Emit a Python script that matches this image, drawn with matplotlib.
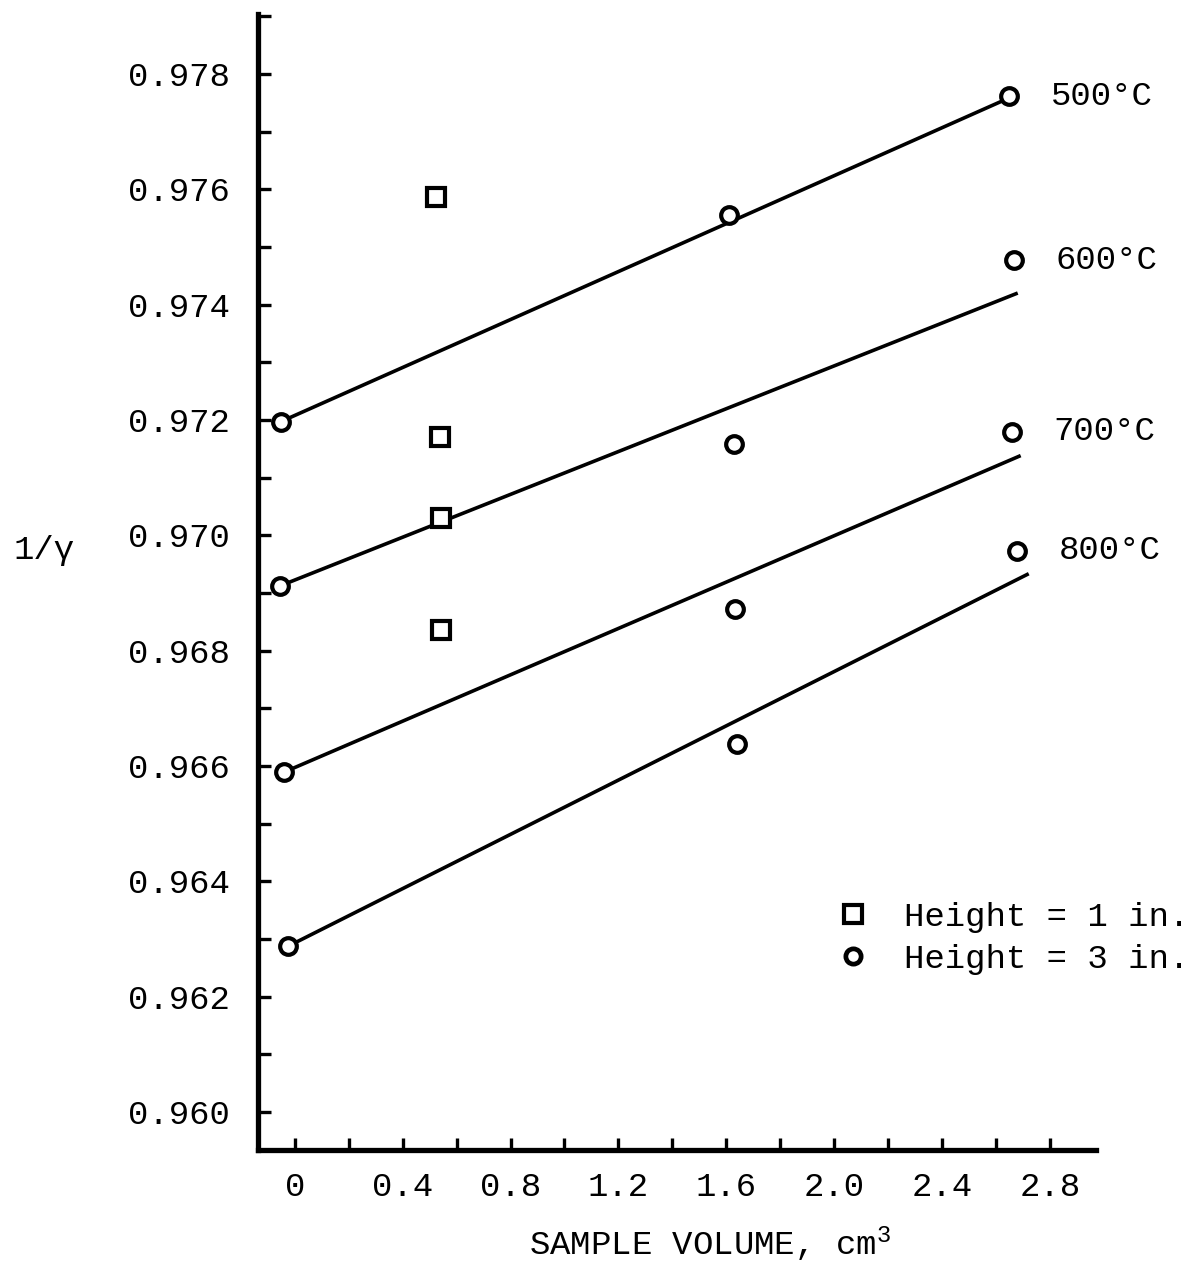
import numpy as np
import matplotlib
matplotlib.use("Agg")
import matplotlib.pyplot as plt
from matplotlib.lines import Line2D
from matplotlib.ticker import MultipleLocator, FormatStrFormatter

plt.rcParams['font.family'] = ['Liberation Mono', 'DejaVu Sans Mono']
plt.rcParams['mathtext.fontset'] = 'custom'
plt.rcParams['mathtext.rm'] = 'Liberation Mono'
plt.rcParams['mathtext.it'] = 'Liberation Mono'

# data
temps = ['500°C', '600°C', '700°C', '800°C']

# Height = 3 in. (circles), one row per temperature
circ_x = [[-0.052, 1.611, 2.648],
          [-0.056, 1.630, 2.667],
          [-0.041, 1.633, 2.659],
          [-0.026, 1.641, 2.678]]
circ_y = [[0.97197, 0.97556, 0.97761],
          [0.96912, 0.97158, 0.97477],
          [0.96589, 0.96872, 0.97180],
          [0.96287, 0.96638, 0.96973]]

# straight fitted lines (start, end)
fit_x = [[-0.052, 2.641],
         [-0.056, 2.674],
         [-0.041, 2.685],
         [-0.026, 2.715]]
fit_y = [[0.97197, 0.97757],
         [0.96912, 0.97419],
         [0.96589, 0.97137],
         [0.96287, 0.96932]]

# Height = 1 in. (squares)
sq_x = [0.522, 0.537, 0.541, 0.544]
sq_y = [0.97586, 0.97171, 0.97030, 0.96836]

fs = 24.5
fig = plt.figure(figsize=(11.99, 12.64), dpi=100)
ax = fig.add_axes([0.215, 0.0902, 0.699, 0.8987])

for i in range(len(temps)):
    ax.plot(fit_x[i], fit_y[i], color='black', lw=2.6, zorder=2)
    ax.plot(circ_x[i], circ_y[i], 'o', ms=12, mfc='white', mec='black', mew=3.0, zorder=3)
    ax.annotate(temps[i], (circ_x[i][-1], circ_y[i][-1]), xytext=(30, 0),
                textcoords='offset points', va='center', ha='left', fontsize=fs)

ax.plot(sq_x, sq_y, 's', ms=13, mfc='white', mec='black', mew=3.0, zorder=3)

ax.set_xlim(-0.137, 2.97)
ax.set_ylim(0.95934, 0.97904)

for s in ['top', 'right']:
    ax.spines[s].set_visible(False)
for s in ['left', 'bottom']:
    ax.spines[s].set_linewidth(3.8)

ax.xaxis.set_minor_locator(MultipleLocator(0.2))
ax.yaxis.set_major_locator(MultipleLocator(0.002))
ax.yaxis.set_minor_locator(MultipleLocator(0.001))
ax.yaxis.set_major_formatter(FormatStrFormatter('%.3f'))
xt = np.arange(0, 2.81, 0.4)
ax.set_xticks(xt)
ax.set_xticklabels(['0'] + ['%.1f' % v for v in xt[1:]])

ax.tick_params(which='both', direction='in', length=9, width=2.4, labelsize=fs)
ax.tick_params(axis='x', pad=16)
ax.tick_params(axis='y', pad=20)

ax.set_xlabel('SAMPLE VOLUME, cm$^3$', fontsize=fs, va='center')
ax.xaxis.set_label_coords(0.54, -0.083)
ax.set_ylabel('1/γ', fontsize=fs, rotation=0, ha='center', va='center')
ax.yaxis.set_label_coords(-0.255, 0.528)

handles = [Line2D([], [], ls='', marker='s', ms=13, mfc='white', mec='black', mew=3.0),
           Line2D([], [], ls='', marker='o', ms=11, mfc='white', mec='black', mew=3.4)]
ax.legend(handles, ['Height = 1 in.', 'Height = 3 in.'], loc='upper left',
          bbox_to_anchor=(0.69, 0.218), frameon=False, fontsize=fs,
          handlelength=1.0, handletextpad=1.0, labelspacing=0.3, borderpad=0,
          borderaxespad=0)

fig.savefig('out.png', dpi=100)
